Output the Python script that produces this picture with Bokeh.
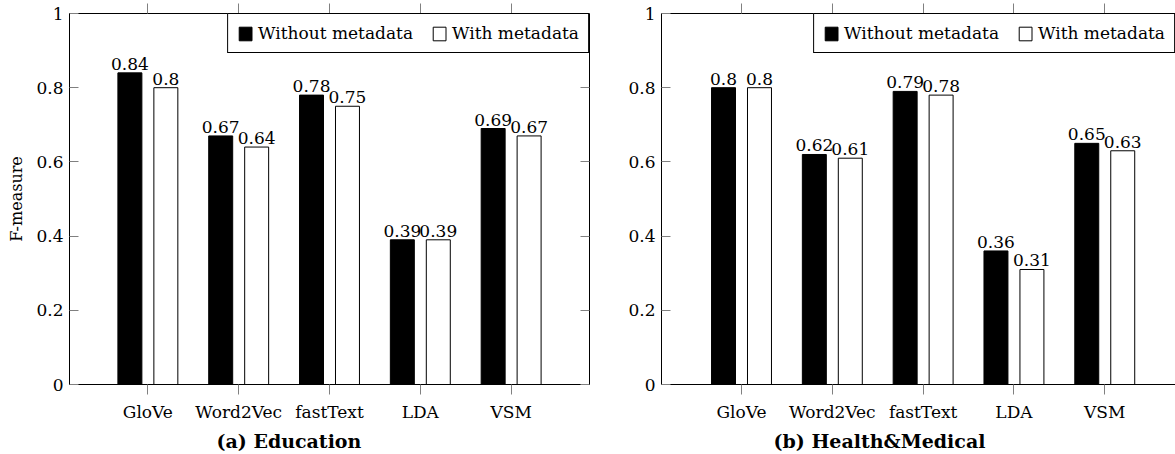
from bokeh.plotting import figure
from bokeh.models import ColumnDataSource, Range1d, FixedTicker, LinearAxis, Title
from bokeh.transform import dodge
from bokeh.layouts import row
from bokeh.core.properties import value
from bokeh.embed import file_html
from bokeh.resources import INLINE

# ---------------- data ----------------
categories = ["GloVe", "Word2Vec", "fastText", "LDA", "VSM"]
edu_without = [0.84, 0.67, 0.78, 0.39, 0.69]
edu_with = [0.80, 0.64, 0.75, 0.39, 0.67]
hm_without = [0.80, 0.62, 0.79, 0.36, 0.65]
hm_with = [0.80, 0.61, 0.78, 0.31, 0.63]
series_names = ["Without metadata", "With metadata"]
y_ticks = [0, 0.2, 0.4, 0.6, 0.8, 1]
y_tick_labels = ["0", "0.2", "0.4", "0.6", "0.8", "1"]
captions = ["(a) Education", "(b) Health&Medical"]
y_axis_title = "F-measure"

FONT = "DejaVu Serif"
FS = "17px"
TICK_GRAY = "#808080"
OFFSET = 0.198
BAR_W = 0.264


def make_panel(without, with_, caption, width, x_start, x_end, border_left, border_right,
               ylabel, show_outline, caption_offset, right_axis):
    xs = [i + 1 for i in range(len(categories))]
    src = ColumnDataSource(dict(
        x=xs,
        without=without,
        with_=with_,
        without_lbl=[f"{v:g}" for v in without],
        with_lbl=[f"{v:g}" for v in with_],
    ))
    p = figure(width=width, height=454,
               x_range=Range1d(x_start, x_end), y_range=Range1d(0, 1),
               output_backend="svg", toolbar_location=None,
               min_border_left=border_left, min_border_right=border_right,
               min_border_top=13, min_border_bottom=66)
    p.xgrid.visible = False
    p.ygrid.visible = False
    p.background_fill_color = "white"
    p.border_fill_color = "white"
    if show_outline:
        p.outline_line_color = "black"
        p.outline_line_alpha = 1
    else:
        p.outline_line_color = None

    p.vbar(x=dodge("x", -OFFSET, range=p.x_range), top="without", bottom=0,
           width=BAR_W, source=src, fill_color="black", line_color="black",
           line_width=1, legend_label=series_names[0])
    p.vbar(x=dodge("x", OFFSET, range=p.x_range), top="with_", bottom=0,
           width=BAR_W, source=src, fill_color="white", line_color="black",
           line_width=1, legend_label=series_names[1])

    p.text(x=dodge("x", -OFFSET, range=p.x_range), y="without", text="without_lbl",
           source=src, text_align="center", text_baseline="bottom", y_offset=-3,
           text_font=value(FONT), text_font_size=value(FS), text_color="black")
    p.text(x=dodge("x", OFFSET, range=p.x_range), y="with_", text="with_lbl",
           source=src, text_align="center", text_baseline="bottom", y_offset=-3,
           text_font=value(FONT), text_font_size=value(FS), text_color="black")

    # bottom axis
    xa = p.xaxis[0]
    xa.ticker = FixedTicker(ticks=xs)
    xa.major_label_overrides = {x: c for x, c in zip(xs, categories)}
    xa.major_tick_out = 10
    xa.major_tick_in = 0
    xa.minor_tick_line_color = None
    xa.major_tick_line_color = TICK_GRAY
    xa.axis_line_color = "black"
    xa.major_label_standoff = 7
    xa.major_label_text_font = FONT
    xa.major_label_text_font_size = FS
    xa.major_label_text_color = "black"

    # left axis
    ya = p.yaxis[0]
    ya.ticker = FixedTicker(ticks=y_ticks)
    ya.major_label_overrides = {t: l for t, l in zip(y_ticks, y_tick_labels)}
    ya.major_tick_in = 9
    ya.major_tick_out = 0
    ya.minor_tick_line_color = None
    ya.major_tick_line_color = TICK_GRAY
    ya.axis_line_color = "black"
    ya.major_label_standoff = 6
    ya.major_label_text_font = FONT
    ya.major_label_text_font_size = FS
    ya.major_label_text_color = "black"
    if ylabel:
        ya.axis_label = ylabel
        ya.axis_label_text_font = FONT
        ya.axis_label_text_font_size = "16px"
        ya.axis_label_text_font_style = "normal"
        ya.axis_label_text_color = "black"
        ya.axis_label_standoff = 7

    # top axis (ticks only)
    top = LinearAxis(ticker=FixedTicker(ticks=xs), major_tick_out=10, major_tick_in=0,
                     major_label_text_font_size="0px", major_label_standoff=0,
                     minor_tick_line_color=None, major_tick_line_color=TICK_GRAY,
                     axis_line_color="black")
    top.major_label_overrides = {x: "" for x in xs}
    p.add_layout(top, "above")

    if right_axis:
        ra = LinearAxis(ticker=FixedTicker(ticks=y_ticks), major_tick_in=9, major_tick_out=0,
                        major_label_text_font_size="0px", major_label_standoff=0,
                        minor_tick_line_color=None, major_tick_line_color=TICK_GRAY,
                        axis_line_color="black")
        ra.major_label_overrides = {t: "" for t in y_ticks}
        p.add_layout(ra, "right")

    # legend
    leg = p.legend[0]
    leg.location = "top_right"
    leg.orientation = "horizontal"
    leg.margin = 0
    leg.padding = 9
    leg.spacing = 18
    leg.label_standoff = 5
    leg.glyph_width = 16
    leg.glyph_height = 17
    leg.label_height = 17
    leg.label_text_font = FONT
    leg.label_text_font_size = FS
    leg.label_text_color = "black"
    leg.border_line_color = "black"
    leg.border_line_width = 1
    leg.border_line_alpha = 1
    leg.background_fill_color = "white"
    leg.background_fill_alpha = 1

    cap = Title(text=caption, align="left", offset=caption_offset, standoff=6,
                text_font=FONT, text_font_size="19px", text_font_style="bold",
                text_color="black")
    p.add_layout(cap, "below")
    return p


left = make_panel(edu_without, edu_with, captions[0], width=625,
                  x_start=0.137, x_end=5.863, border_left=69, border_right=36,
                  ylabel=y_axis_title, show_outline=True, caption_offset=147,
                  right_axis=True)
right = make_panel(hm_without, hm_with, captions[1], width=550,
                   x_start=0.119, x_end=5.779, border_left=36, border_right=0,
                   ylabel=None, show_outline=False, caption_offset=112,
                   right_axis=False)

layout = row(left, right, spacing=0)
open("out.html", "w").write(file_html(layout, INLINE))
